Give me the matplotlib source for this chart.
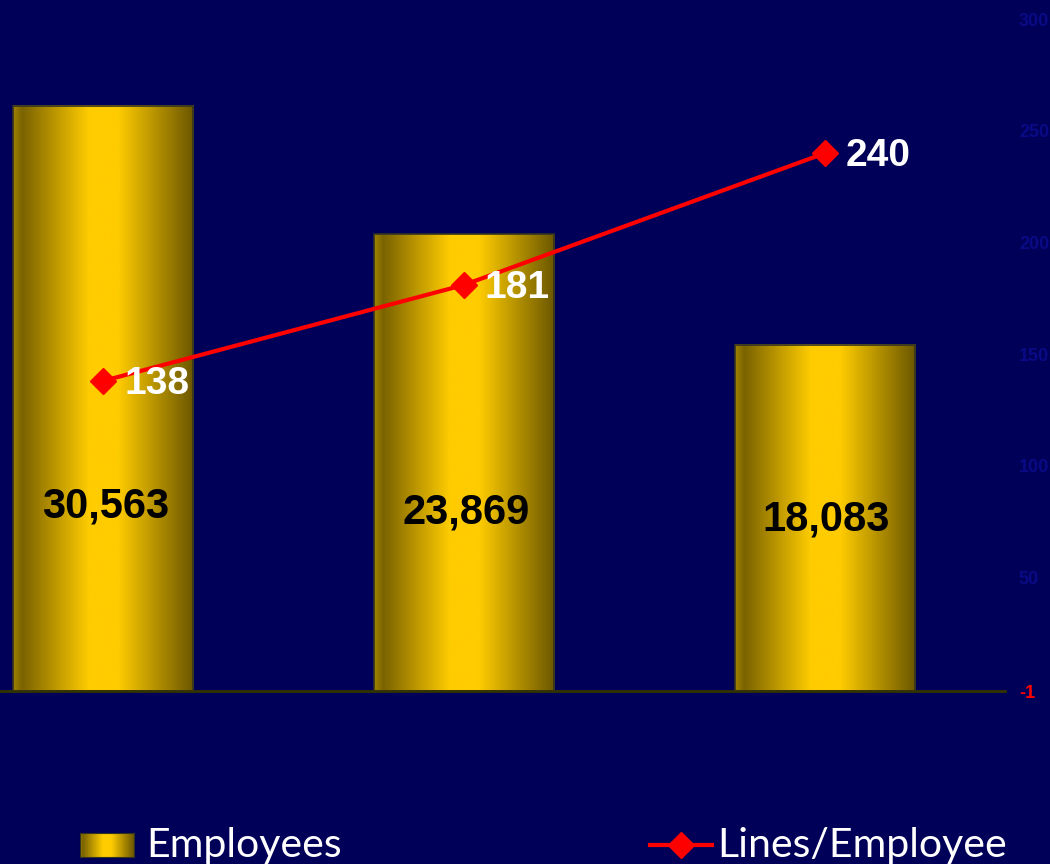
import matplotlib
matplotlib.use("Agg")
import matplotlib.pyplot as plt
import numpy as np
from matplotlib.colors import LinearSegmentedColormap
from matplotlib.lines import Line2D

years = ["2001", "2002", "2003"]
employees = [30563, 23869, 18083]
lines_per_employee = [138, 181, 240]
right_ticks = [-1, 50, 100, 150, 200, 250, 300]

BG = "#000058"
gold = LinearSegmentedColormap.from_list(
    "gold",
    [(0.0, "#a08200"), (0.05, "#7a6300"), (0.42, "#ffcc00"),
     (0.58, "#ffcc00"), (1.0, "#6b5700")])
grad = np.linspace(0, 1, 256).reshape(1, -1)

fig = plt.figure(figsize=(10.5, 8.64), dpi=100, facecolor=BG)
W, H = 1050, 864
# plot area runs past the left edge of the figure
ax = fig.add_axes([-77 / W, 173 / H, 1082 / W, 691 / H])
ax.set_facecolor(BG)
x = np.arange(len(employees))
bars = ax.bar(x, employees, width=0.5, facecolor="none",
              edgecolor="#333322", linewidth=1.2, zorder=3)
for b in bars:
    x0, w, h = b.get_x(), b.get_width(), b.get_height()
    ax.imshow(grad, cmap=gold, aspect="auto", extent=(x0, x0 + w, 0, h),
              zorder=2, interpolation="bicubic")
ax.set_xlim(-0.5, 2.5)
ax.set_ylim(0, 36100)
ax.axhline(0, color="#333300", lw=2, zorder=4, clip_on=False)
for s in ax.spines.values():
    s.set_visible(False)
ax.set_xticks([])
ax.set_yticks([])

# employee counts sit inside the bars
label_y = [9650, 9300, 8950]
for xi, v, yy in zip(x, employees, label_y):
    ax.text(xi + 0.005, yy, f"{v:,}", ha="center", va="center",
            fontsize=30, fontweight="bold", color="black",
            family="Liberation Sans", zorder=5)

ax2 = ax.twinx()
ax2.plot(x, lines_per_employee, color="#ff0000", lw=3, marker="D",
         markersize=13, zorder=6)
ax2.set_ylim(-1, 308.7)
ax2.set_yticks(right_ticks)
ax2.set_yticklabels([str(t) for t in right_ticks])
ax2.tick_params(axis="y", length=0, pad=10, labelsize=13)
for lab, t in zip(ax2.get_yticklabels(), right_ticks):
    lab.set_fontweight("bold")
    lab.set_family("Liberation Sans")
    lab.set_color("#ff0000" if t == -1 else "#0a0a86")
for s in ax2.spines.values():
    s.set_visible(False)
for xi, v in zip(x, lines_per_employee):
    ax2.annotate(str(v), (xi, v), xytext=(15, -2), textcoords="offset points",
                 ha="left", va="center", fontsize=28, fontweight="bold",
                 color="white", family="Liberation Sans", zorder=7)

# legend along the bottom
sw = fig.add_axes([80 / W, (H - 857) / H, 54 / W, 24 / H])
sw.imshow(grad, cmap=gold, aspect="auto", interpolation="bicubic")
sw.set_xticks([])
sw.set_yticks([])
for s in sw.spines.values():
    s.set_color("#333322")
fig.text(146 / W, (H - 845) / H, "Employees", color="white", fontsize=29.5,
         family="Lato", va="center", ha="left")
fig.add_artist(Line2D([650 / W, 712 / W], [(H - 845) / H] * 2,
                      transform=fig.transFigure, color="#ff0000", lw=3))
fig.add_artist(Line2D([681 / W], [(H - 845) / H], transform=fig.transFigure,
                      color="#ff0000", marker="D", markersize=13, lw=0))
fig.text(717 / W, (H - 845) / H, "Lines/Employee", color="white",
         fontsize=29.5, family="Lato", va="center", ha="left")

fig.savefig("out.png", dpi=100, facecolor=BG)
